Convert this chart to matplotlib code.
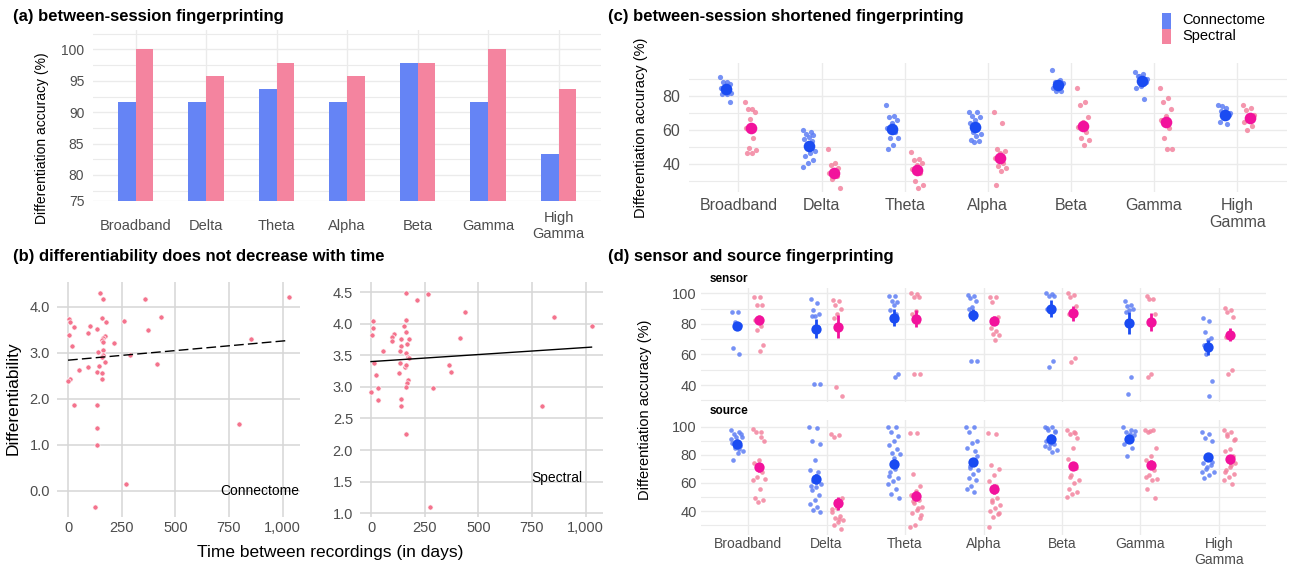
import numpy as np
import matplotlib
matplotlib.use("Agg")
import matplotlib.pyplot as plt
from matplotlib.patches import Rectangle
from matplotlib.ticker import FuncFormatter

plt.rcParams['font.family'] = ['Liberation Sans', 'DejaVu Sans']

# ---------------- data ----------------
bands = ['Broadband', 'Delta', 'Theta', 'Alpha', 'Beta', 'Gamma', 'High\nGamma']

# (a) between-session fingerprinting
acc_conn = [91.7, 91.7, 93.75, 91.7, 97.9, 91.7, 83.3]
acc_spec = [100, 95.8, 97.9, 95.8, 97.9, 100, 93.75]

# (b) differentiability vs time between recordings
conn_days = [151, 163, 361, 1028, 5, 8, 157, 176, 261, 434, 30, 101, 134, 93, 372,
             6, 170, 162, 156, 165, 17, 212, 851, 138, 162, 162, 288, 157, 173, 415,
             142, 51, 93, 134, 159, 9, 0, 160, 30, 135, 795, 137, 137, 272, 126]
conn_diff = [4.30, 4.17, 4.16, 4.22, 3.73, 3.68, 3.75, 3.68, 3.70, 3.77, 3.56, 3.58, 3.52, 3.43, 3.50,
             3.39, 3.36, 3.32, 3.27, 3.24, 3.14, 3.22, 3.31, 3.01, 3.07, 2.95, 2.95, 2.90, 2.80, 2.76,
             2.72, 2.62, 2.70, 2.58, 2.56, 2.44, 2.38, 2.42, 1.86, 1.87, 1.45, 1.36, 1.00, 0.14, -0.36]
spec_days = [161, 264, 214, 436, 851, 1028, 9, 164, 8, 153, 161, 6, 105, 99, 98,
             140, 178, 417, 167, 141, 136, 56, 164, 172, 178, 16, 136, 157, 164, 364,
             130, 374, 22, 172, 167, 164, 33, 291, 2, 33, 140, 140, 798, 164, 276]
spec_diff = [4.49, 4.47, 4.37, 4.18, 4.11, 3.97, 4.05, 4.06, 3.93, 3.96, 3.87, 3.82, 3.84, 3.79, 3.73,
             3.75, 3.75, 3.77, 3.68, 3.64, 3.57, 3.56, 3.53, 3.48, 3.45, 3.37, 3.38, 3.32, 3.34, 3.34,
             3.22, 3.23, 3.18, 3.11, 3.06, 3.00, 2.98, 2.98, 2.92, 2.80, 2.81, 2.69, 2.69, 2.26, 1.10]
conn_fit = (2.84, 0.000417)   # intercept, slope
spec_fit = (3.40, 0.000223)

# (c) between-session shortened fingerprinting
short_conn = [
    [91, 88, 88, 87, 86, 85, 84, 83, 82, 81, 81, 76.5],
    [60, 59, 58, 57, 56, 55, 53.5, 50.5, 47.5, 46.5, 45, 42.5, 41, 38.5],
    [74.5, 68.5, 68, 66, 64, 61, 59, 55.5, 55.5, 51.5, 49],
    [70.5, 70.5, 68.5, 68, 66, 64, 62, 59, 57.5, 56.5, 54.5, 53.5, 53],
    [95.5, 89.5, 88.5, 87.5, 86, 84.5, 83, 83],
    [94, 93, 91.5, 88.5, 86, 85, 78.5, 92, 90],
    [75, 73, 71, 69, 67, 65, 63.5, 74, 70],
]
short_spec = [
    [76.5, 72.5, 72.5, 70.5, 66.5, 61.5, 55.5, 49.5, 48.5, 46.5, 46.5],
    [49, 41, 39.5, 38, 36.5, 35, 33, 31.5, 26],
    [47, 43, 42.5, 41, 39.5, 37, 35, 30, 28, 26],
    [70.5, 64, 49, 47.5, 46.5, 43.5, 41, 39, 37.5, 36, 28],
    [85, 76.5, 75, 68, 65, 62, 59, 55.5, 54, 51],
    [85, 79, 76.5, 72.5, 68.5, 66, 61.5, 55.5, 49, 49],
    [75, 73, 72, 69, 67, 65, 62.5, 60],
]
short_conn_mean = [84, 50.5, 60.5, 62, 86.5, 89, 69]
short_spec_mean = [61.5, 35, 36.5, 43.5, 62.5, 65, 67]

# (d) sensor and source fingerprinting
sensor_conn = [
    [88, 88, 81, 79, 78, 64, 60],
    [96.5, 93.5, 89, 86.5, 85, 85, 78, 40.5, 40.5],
    [98, 98, 95, 94.5, 92, 89, 86.5, 84.5, 47, 45.5],
    [99, 98.5, 97, 95, 91, 90, 86.5, 55.5, 55.5],
    [100, 99.5, 98.5, 98, 91, 90, 55.5, 51.5],
    [95, 92, 91.5, 90, 89, 87.5, 45, 34],
    [84, 82, 74.5, 71, 69.5, 66, 64, 60.5, 42.5, 32.5],
]
sensor_spec = [
    [97.5, 97.5, 92, 92, 84.5, 82.5, 78.5, 76, 66, 62],
    [95.5, 95, 92.5, 90, 86.5, 84, 78, 39, 32.5],
    [100, 99.5, 97.5, 97.5, 88.5, 86.5, 81, 47, 47],
    [97.5, 97.5, 94, 84.5, 83, 77, 75, 73.5, 72.5, 69.5],
    [100, 99, 97.5, 91.5, 88.5, 86.5, 57.5, 55],
    [98, 96.5, 96, 86.5, 47, 45.5],
    [90.5, 89, 87.5, 84.5, 74, 71.5, 49.5, 47],
]
sensor_conn_mean = [78.3, 76.9, 84.1, 85.6, 90, 80.5, 64.7]
sensor_spec_mean = [82.4, 78, 83.3, 82, 86.8, 81, 73]
sensor_conn_err = [2.5, 6, 5.3, 3.8, 5.4, 7, 5]
sensor_spec_err = [2.5, 7.5, 5.6, 3, 5, 6, 4.3]

source_conn = [
    [97.5, 96, 94.5, 92.5, 90, 88.5, 86.5, 85, 83, 81.5, 76.5, 95, 93, 91, 84],
    [100, 99, 89.5, 87.5, 76.5, 69, 67.5, 61.5, 59.5, 57, 55, 51.5, 48, 45, 43, 40.5, 39, 65, 58],
    [100, 100, 96, 93.5, 90, 87, 84, 81.5, 80.5, 70, 67.5, 63.5, 61.5, 59.5, 55.5, 52, 49.5, 78, 65],
    [100, 99.5, 96.5, 90, 88.5, 85, 83, 70.5, 69, 66.5, 63.5, 62, 58, 55.5, 53.5, 72, 79],
    [100, 100, 98, 96, 93.5, 90, 87.5, 85, 83.5, 82, 99, 97, 88, 86],
    [99.5, 97.5, 96, 94, 90, 87.5, 85, 79, 97, 95],
    [96, 95, 92, 90, 77, 74.5, 72.5, 70, 67.5, 65.5, 63.5, 75, 71, 68],
]
source_spec = [
    [98.5, 96.5, 96, 90, 76.5, 74.5, 67.5, 64, 63, 55.5, 49.5, 48, 46.5, 62, 93],
    [95, 94, 92.5, 49.5, 42, 39, 36.5, 35, 33.5, 32, 30, 27, 47, 41.5, 34],
    [95.5, 95.5, 66.5, 57.5, 54.5, 51.5, 48, 45.5, 43, 40.5, 38.5, 35, 30, 28.5, 42, 47, 37],
    [95.5, 94.5, 73, 70, 65.5, 61.5, 49.5, 46.5, 44.5, 42, 40, 38, 36, 28.5, 58, 47.5, 38.5],
    [98, 96.5, 94.5, 92, 85, 77, 70.5, 65.5, 62, 60, 55.5, 53.5, 52, 50, 95.5, 64],
    [98, 97.5, 96, 85, 79.5, 76, 69, 65.5, 63, 62, 56, 49.5, 97, 64.5],
    [97.5, 96, 93.5, 90.5, 84, 82.5, 79, 77, 74.5, 72.5, 69, 66.5, 64, 62, 59.5, 95, 91, 71, 68],
]
source_conn_mean = [88, 63, 73.7, 75, 91.3, 91.5, 78.6]
source_spec_mean = [71.1, 45.5, 50.7, 55.7, 72, 73, 76.8]
source_conn_err = [2.5, 3.5, 3, 3, 2, 2.5, 3]
source_spec_err = [3, 4.7, 3.5, 3.5, 3, 3, 3]

# ---------------- style ----------------
BAR_BLUE = '#6584F5'
BAR_PINK = '#F4849F'
PT_BLUE = '#5E7EF4'
PT_PINK = '#F3849F'
MEAN_BLUE = '#1A4BF2'
MEAN_PINK = '#F2129C'
B_PT = '#F4738D'
GRID = '#EBEBEB'
TICK_C = '#4D4D4D'

W, H = 1290, 566
fig = plt.figure(figsize=(W / 100, H / 100), dpi=100)


def px_axes(l, t, r, b):
    return fig.add_axes([l / W, 1 - b / H, (r - l) / W, (b - t) / H])


def fig_text(x, y, s, **kw):
    fig.text(x / W, 1 - y / H, s, **kw)


def clean(ax):
    for sp in ax.spines.values():
        sp.set_visible(False)
    ax.set_axisbelow(True)
    ax.tick_params(which='both', length=0)


def jitter(n, w):
    # fixed, non-random spread of points around the group position
    return ((np.arange(n) * 0.618034) % 1 - 0.5) * 2 * w


x = np.arange(len(bands))

# ---------------- (a) ----------------
ax = px_axes(93.3, 30, 600.8, 200.7)
clean(ax)
ax.bar(x - 0.125, acc_conn, width=0.25, color=BAR_BLUE)
ax.bar(x + 0.125, acc_spec, width=0.25, color=BAR_PINK)
ax.set_xlim(-0.6, 6.6)
ax.set_ylim(75.9, 103.1)
ax.set_xticks(x)
ax.set_xticklabels(bands)
ax.set_yticks([75.9, 80, 85, 90, 95, 100])
ax.set_yticklabels(['75', '80', '85', '90', '95', '100'])
ax.set_yticks([77.5, 82.5, 87.5, 92.5, 97.5, 102.5], minor=True)
ax.grid(which='major', color=GRID, lw=1.0)
ax.grid(which='minor', axis='y', color=GRID, lw=0.8)
ax.tick_params(axis='x', labelsize=10.5, pad=18, labelcolor=TICK_C)
ax.tick_params(axis='y', labelsize=10, pad=6.5, labelcolor=TICK_C)
for lab in ax.get_xticklabels():
    lab.set_va('center')
fig_text(13, 17, '(a) between-session fingerprinting', fontsize=12, fontweight='bold', va='center')
fig_text(42, 138, 'Differentiation accuracy (%)', fontsize=10, rotation=90, ha='center', va='center')

# ---------------- (b) ----------------
fmt = FuncFormatter(lambda v, p: f'{v:,.0f}')
for (l, r, days, diff, fit, ls, ylim, yt, ylab, tx, ty, ha) in [
        (57, 300, conn_days, conn_diff, conn_fit, (0, (7, 3)), (-0.57, 4.54),
         [0, 1, 2, 3, 4], 'Connectome', 1080, 0.0, 'right'),
        (360, 603, spec_days, spec_diff, spec_fit, '-', (0.94, 4.66),
         [1, 1.5, 2, 2.5, 3, 3.5, 4, 4.5], 'Spectral', 866, 1.55, 'center')]:
    ax = px_axes(l, 282, r, 517)
    clean(ax)
    ax.scatter(days, diff, s=14, color=B_PT, edgecolor='white', linewidth=0.5, zorder=3)
    xs = np.array([0, max(days)])
    ax.plot(xs, fit[0] + fit[1] * xs, color='black', lw=1.0, ls=ls, zorder=4)
    ax.set_xlim(-51.5, 1081.5)
    ax.set_ylim(*ylim)
    ax.set_xticks([0, 250, 500, 750, 1000])
    ax.xaxis.set_major_formatter(fmt)
    ax.set_yticks(yt)
    ax.set_yticklabels([f'{v:.1f}' for v in yt])
    ax.grid(color='#D6D6D6', lw=1.1)
    ax.tick_params(axis='x', labelsize=10.5, pad=3, labelcolor=TICK_C)
    ax.tick_params(axis='y', labelsize=10.5, pad=5, labelcolor=TICK_C)
    ax.text(tx, ty, ylab, fontsize=10, ha=ha, va='center', zorder=5)
fig_text(13, 257, '(b) differentiability does not decrease with time', fontsize=12,
         fontweight='bold', va='center')
fig_text(13, 398, 'Differentiability', fontsize=12.5, rotation=90, ha='center', va='center')
fig_text(330, 552, 'Time between recordings (in days)', fontsize=12.5, ha='center', va='center')


# ---------------- (c) and (d) helpers ----------------
def dot_groups(ax, conn, spec, cmean, smean, dodge, jw, s_pt, s_mean, cerr=None, serr=None):
    for i in range(len(bands)):
        c = np.array(conn[i])
        sp = np.array(spec[i])
        ax.scatter(i - dodge + jitter(len(c), jw), c, s=s_pt, color=PT_BLUE, alpha=0.85,
                   linewidth=0, zorder=3)
        ax.scatter(i + dodge + jitter(len(sp), jw), sp, s=s_pt, color=PT_PINK, alpha=0.85,
                   linewidth=0, zorder=3)
    if cerr is not None:
        ax.errorbar(x - dodge, cmean, yerr=cerr, fmt='none', ecolor=MEAN_BLUE, elinewidth=2,
                    capsize=0, zorder=4)
        ax.errorbar(x + dodge, smean, yerr=serr, fmt='none', ecolor=MEAN_PINK, elinewidth=2,
                    capsize=0, zorder=4)
    ax.scatter(x - dodge, cmean, s=s_mean, color=MEAN_BLUE, linewidth=0, zorder=5)
    ax.scatter(x + dodge, smean, s=s_mean, color=MEAN_PINK, linewidth=0, zorder=5)
    ax.set_xlim(-0.6, 6.6)
    ax.set_xticks(x)
    ax.grid(which='major', color=GRID, lw=1.0)
    ax.grid(which='minor', axis='y', color=GRID, lw=0.8)


# ---------------- (c) ----------------
ax = px_axes(688.5, 63, 1287, 192)
clean(ax)
dot_groups(ax, short_conn, short_spec, short_conn_mean, short_spec_mean, 0.15, 0.075, 14, 70)
ax.set_ylim(23.7, 99.4)
ax.set_yticks([40, 60, 80])
ax.set_yticks([30, 50, 70, 90], minor=True)
ax.set_xticklabels(bands)
ax.tick_params(axis='x', labelsize=11.5, pad=4, labelcolor=TICK_C)
ax.tick_params(axis='y', labelsize=11.5, pad=6, labelcolor=TICK_C)
fig_text(608, 17, '(c) between-session shortened fingerprinting', fontsize=12,
         fontweight='bold', va='center')
fig_text(641, 128, 'Differentiation accuracy (%)', fontsize=10.5, rotation=90,
         ha='center', va='center')

# legend
for k, (lab, col) in enumerate([('Connectome', BAR_BLUE), ('Spectral', BAR_PINK)]):
    top = 13 + 15.5 * k
    fig.add_artist(Rectangle((1162 / W, 1 - (top + 15.5) / H), 9 / W, 15.5 / H,
                             transform=fig.transFigure, color=col, lw=0))
    fig_text(1182, top + 7.5, lab, fontsize=10.5, va='center')

# ---------------- (d) ----------------
ax_s = px_axes(701, 287.7, 1266, 401.7)
clean(ax_s)
dot_groups(ax_s, sensor_conn, sensor_spec, sensor_conn_mean, sensor_spec_mean, 0.14, 0.06,
           11, 55, sensor_conn_err, sensor_spec_err)
ax_s.set_ylim(29.1, 103.6)
ax_s.set_yticks([40, 60, 80, 100])
ax_s.set_yticks([30, 50, 70, 90], minor=True)
ax_s.set_xticklabels([])
ax_s.tick_params(axis='y', labelsize=10.5, pad=3, labelcolor=TICK_C)

ax_o = px_axes(701, 420, 1266, 534.9)
clean(ax_o)
dot_groups(ax_o, source_conn, source_spec, source_conn_mean, source_spec_mean, 0.14, 0.08,
           11, 55, source_conn_err, source_spec_err)
ax_o.set_ylim(23, 104.8)
ax_o.set_yticks([40, 60, 80, 100])
ax_o.set_yticks([30, 50, 70, 90], minor=True)
ax_o.set_xticklabels(bands)
ax_o.tick_params(axis='x', labelsize=10, pad=1.5, labelcolor=TICK_C)
ax_o.tick_params(axis='y', labelsize=10.5, pad=3, labelcolor=TICK_C)

fig_text(710, 279, 'sensor', fontsize=8.5, fontweight='bold', va='center')
fig_text(710, 411.5, 'source', fontsize=8.5, fontweight='bold', va='center')
fig_text(608, 257, '(d) sensor and source fingerprinting', fontsize=12, fontweight='bold',
         va='center')
fig_text(645, 410, 'Differentiation accuracy (%)', fontsize=10.5, rotation=90,
         ha='center', va='center')

fig.savefig('out.png', dpi=100)
